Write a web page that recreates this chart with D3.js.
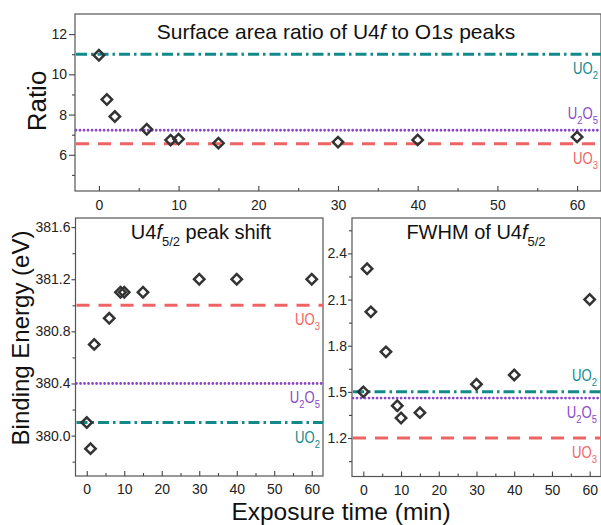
<!DOCTYPE html>
<html><head><meta charset="utf-8">
<script src="https://cdn.jsdelivr.net/npm/d3@7"></script>
<style>
body{margin:0;background:#fff;}
svg{display:block;font-family:"Liberation Sans",Arial,sans-serif;}
</style></head><body>
<svg id="chart" width="601" height="525"></svg>
<script>
// ---------------- data ----------------
const times = [0, 1, 2, 6, 9, 10, 15, 30, 40, 60];
const ratioValues = [10.95, 8.75, 7.9, 7.27, 6.73, 6.78, 6.58, 6.63, 6.74, 6.89];
const energyValues = [380.1, 379.9, 380.7, 380.9, 381.1, 381.1, 381.1, 381.2, 381.2, 381.2];
const fwhmValues = [1.5, 2.3, 2.02, 1.76, 1.41, 1.33, 1.365, 1.55, 1.61, 2.1];

const species = ["UO2", "U2O5", "UO3"];
const ratioRefs = [11.0, 7.22, 6.55];
const energyRefs = [380.1, 380.4, 381.0];
const fwhmRefs = [1.5, 1.46, 1.2];

const xTicks = [0, 10, 20, 30, 40, 50, 60];
const ratioTicks = [6, 8, 10, 12];
const energyTicks = [380.0, 380.4, 380.8, 381.2, 381.6];
const fwhmTicks = [1.2, 1.5, 1.8, 2.1, 2.4];

// ---------------- styles ----------------
const speciesColor = {UO2: "#138a8a", U2O5: "#8a48c8", UO3: "#ee6464"};
const speciesDash = {UO2: "11,4,2.5,4", U2O5: "0.01,4", UO3: "13,9"};
const speciesCap = {UO2: "butt", U2O5: "round", UO3: "butt"};
const speciesWidth = {UO2: 3, U2O5: 2.8, UO3: 3};

const svg = d3.select("#chart");

const panels = [
  {values: ratioValues, refs: ratioRefs, ticks: ratioTicks, fmt: d3.format("d"),
   xr: [75, 601], yr: [191, 14], yd: [4.2, 13], minorStep: 1,
   ytick: 6, ypad: 2, xpad: 9,
   labelPos: ["below", "above", "below"], labelEnd: 598},
  {values: energyValues, refs: energyRefs, ticks: energyTicks, fmt: d3.format(".1f"),
   xr: [75.5, 323], yr: [476, 218], yd: [379.69, 381.67], minorStep: 0.2,
   ytick: 4, ypad: 1, xpad: 8.5,
   labelPos: ["below", "below", "below"], labelEnd: 320},
  {values: fwhmValues, refs: fwhmRefs, ticks: fwhmTicks, fmt: d3.format(".1f"),
   xr: [352, 601], yr: [476.5, 218], yd: [0.95, 2.63], minorStep: 0.15,
   ytick: 4, ypad: 1, xpad: 8.5,
   labelPos: ["above", "below", "below"], labelEnd: 597}
];

panels.forEach((p, pi) => {
  const x = d3.scaleLinear().domain([-3, 63]).range(p.xr);
  const y = d3.scaleLinear().domain(p.yd).range(p.yr);
  const g = svg.append("g");

  // frame
  g.append("rect")
    .attr("x", p.xr[0]).attr("y", p.yr[1])
    .attr("width", p.xr[1] - p.xr[0]).attr("height", p.yr[0] - p.yr[1])
    .attr("fill", "none").attr("stroke", "#555").attr("stroke-width", 1.2);

  // reference lines
  species.forEach((s, i) => {
    g.append("line")
      .attr("x1", p.xr[0] + 1).attr("x2", p.xr[1])
      .attr("y1", y(p.refs[i])).attr("y2", y(p.refs[i]))
      .attr("stroke", speciesColor[s])
      .attr("stroke-width", speciesWidth[s])
      .attr("stroke-dasharray", speciesDash[s])
      .attr("stroke-linecap", speciesCap[s]);
  });

  // species labels with subscripts
  species.forEach((s, i) => {
    const off = p.labelPos[i] === "below" ? 20 : -11;
    const lg = g.append("g")
      .attr("transform", `translate(${p.labelEnd},${y(p.refs[i]) + off}) scale(0.82,1)`);
    const t = lg.append("text").attr("text-anchor", "end")
      .attr("fill", speciesColor[s]).attr("font-size", 16);
    const parts = s.match(/[A-Z]+|\d+/g);
    let sub = false;
    parts.forEach(part => {
      const isNum = /\d/.test(part);
      const tsp = t.append("tspan").text(part);
      if (isNum && !sub) { tsp.attr("font-size", 11.5).attr("dy", 5); sub = true; }
      else if (!isNum && sub) { tsp.attr("dy", -5); sub = false; }
      else if (isNum) tsp.attr("font-size", 11.5);
    });
  });

  // data diamonds
  g.selectAll("path.pt").data(times.map((t, i) => [t, p.values[i]]))
    .join("path").attr("class", "pt")
    .attr("d", d3.symbol(d3.symbolSquare, 54)())
    .attr("transform", d => `translate(${x(d[0])},${y(d[1])}) rotate(45)`)
    .attr("fill", "none").attr("stroke", "#333").attr("stroke-width", 2.5);

  // x axis (ticks inward)
  const xa = g.append("g").attr("transform", `translate(0,${p.yr[0]})`)
    .call(d3.axisBottom(x).tickValues(xTicks).tickFormat(d3.format("d"))
      .tickSizeInner(-5).tickSizeOuter(0).tickPadding(p.xpad));
  const xm = g.append("g").attr("transform", `translate(0,${p.yr[0]})`)
    .call(d3.axisBottom(x).tickValues(d3.range(5, 60, 10)).tickFormat("")
      .tickSizeInner(-3).tickSizeOuter(0));
  // y axis (ticks outward)
  const ya = g.append("g").attr("transform", `translate(${p.xr[0]},0)`)
    .call(d3.axisLeft(y).tickValues(p.ticks).tickFormat(p.fmt)
      .tickSizeInner(p.ytick).tickSizeOuter(0).tickPadding(p.ypad));
  const minorVals = p.ticks.flatMap(v => [v - p.minorStep]).concat([p.ticks[p.ticks.length - 1] + p.minorStep])
    .filter(v => v > p.yd[0] && v < p.yd[1]);
  const ym = g.append("g").attr("transform", `translate(${p.xr[0]},0)`)
    .call(d3.axisLeft(y).tickValues(minorVals).tickFormat("")
      .tickSizeInner(3).tickSizeOuter(0));
  [xa, xm, ya, ym].forEach(a => {
    a.select(".domain").remove();
    a.selectAll("line").attr("stroke", "#444").attr("stroke-width", 1.1);
    a.selectAll("text").attr("font-size", 14).attr("fill", "#222")
      .attr("font-family", "'Liberation Sans', Arial, sans-serif");
  });
});

// titles
const t1 = svg.append("text").attr("x", 336).attr("y", 39).attr("text-anchor", "middle")
  .attr("font-size", 21).attr("fill", "#111");
t1.append("tspan").text("Surface area ratio of U4");
t1.append("tspan").text("f").attr("font-style", "italic");
t1.append("tspan").text(" to O1");
t1.append("tspan").text("s").attr("font-style", "italic");
t1.append("tspan").text(" peaks");

function fTitle(cx, pre, post) {
  const t = svg.append("text").attr("x", cx).attr("y", 239).attr("text-anchor", "middle")
    .attr("font-size", 20).attr("fill", "#111");
  t.append("tspan").text(pre);
  t.append("tspan").text("f").attr("font-style", "italic");
  t.append("tspan").text("5/2").attr("font-size", 13).attr("dy", 7);
  if (post) t.append("tspan").text(post).attr("dy", -7);
}
fTitle(201, "U4", " peak shift");
fTitle(476, "FWHM of U4", "");

// axis labels
svg.append("text").attr("transform", "translate(46,101) rotate(-90)")
  .attr("text-anchor", "middle").attr("font-size", 26).attr("fill", "#111").text("Ratio");
svg.append("text").attr("transform", "translate(29,338) rotate(-90)")
  .attr("text-anchor", "middle").attr("font-size", 24).attr("fill", "#111").text("Binding Energy (eV)");
svg.append("text").attr("x", 341).attr("y", 520)
  .attr("text-anchor", "middle").attr("font-size", 24.5).attr("fill", "#111").text("Exposure time (min)");
</script>
</body></html>
